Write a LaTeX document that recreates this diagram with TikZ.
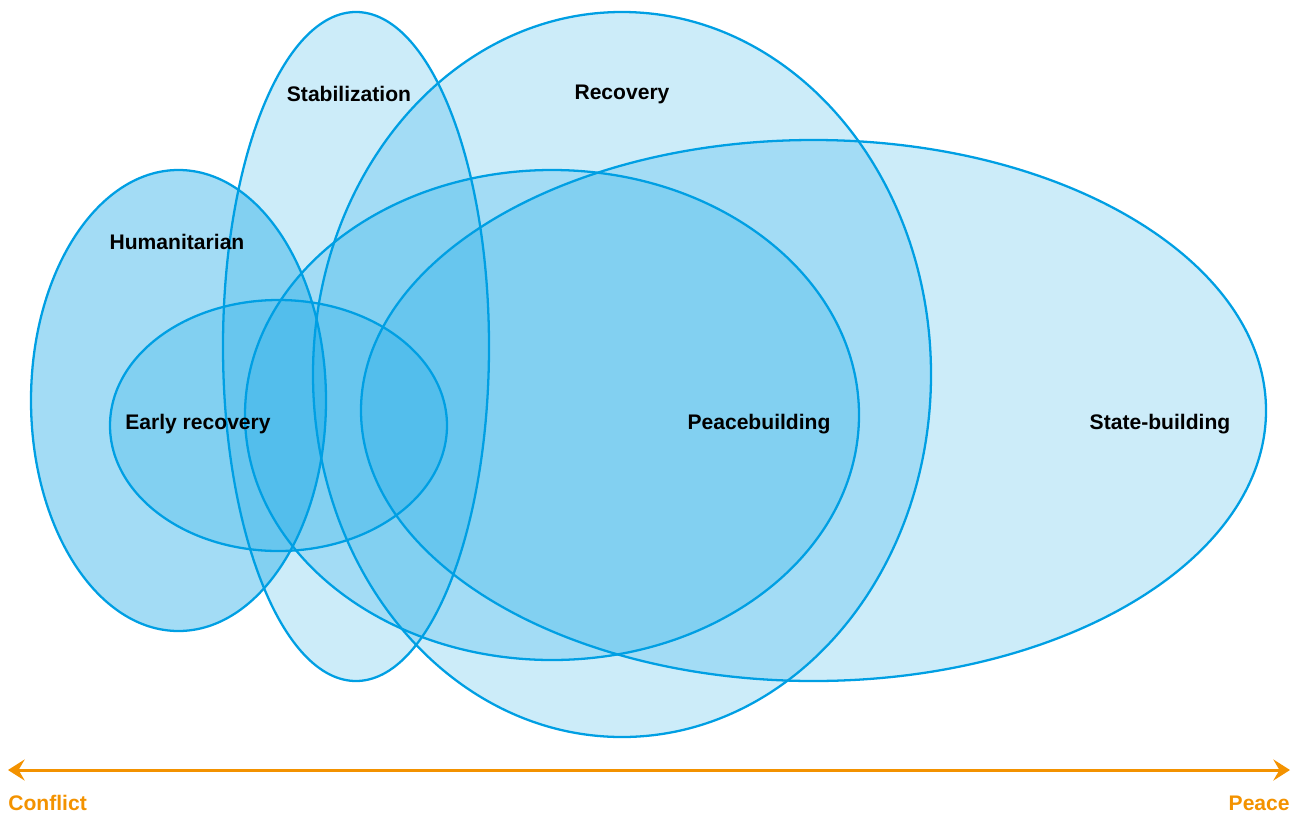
\documentclass[tikz,border=0pt]{standalone}
\usepackage{fontspec}
\setmainfont{Liberation Sans}
\usepackage{tikz}
\usetikzlibrary{
  arrows.meta,
  positioning
}
\definecolor{vnBlue}{HTML}{009FE3}
\definecolor{vnOrange}{HTML}{F39200}
\tikzset{
  areafill/.style={fill=vnBlue, fill opacity=0.2},
  areaedge/.style={draw=vnBlue, line width=1.3pt},
  arealabel/.style={font=\fontsize{12}{14}\selectfont\bfseries, text=black, inner sep=0pt},
  axislabel/.style={font=\fontsize{12}{14}\selectfont\bfseries, text=vnOrange, inner sep=0pt},
  axisline/.style={{Stealth[length=9.5pt, width=12pt, inset=3.5pt]}-{Stealth[length=9.5pt, width=12pt, inset=3.5pt]}, line width=1.7pt, vnOrange}
}
\begin{document}
\begin{tikzpicture}[x=0.02cm, y=-0.02cm]
  \useasboundingbox (0,0) rectangle (1301,815);
  % fills first, edges on top
  \fill[areafill, fill opacity=0.36] (178.5,400.5) ellipse [x radius=147.5, y radius=230.5];
  \fill[areafill] (278.5,425.5) ellipse [x radius=168.5, y radius=125.5];
  \fill[areafill] (356,346.5)   ellipse [x radius=133, y radius=334.5];
  \fill[areafill] (622,374.5)   ellipse [x radius=309, y radius=362.5];
  \fill[areafill] (552,415)     ellipse [x radius=307, y radius=245];
  \fill[areafill] (813.5,410.5) ellipse [x radius=452.5, y radius=270.5];
  \draw[areaedge] (178.5,400.5) ellipse [x radius=147.5, y radius=230.5];
  \draw[areaedge] (278.5,425.5) ellipse [x radius=168.5, y radius=125.5];
  \draw[areaedge] (356,346.5)   ellipse [x radius=133, y radius=334.5];
  \draw[areaedge] (622,374.5)   ellipse [x radius=309, y radius=362.5];
  \draw[areaedge] (552,415)     ellipse [x radius=307, y radius=245];
  \draw[areaedge] (813.5,410.5) ellipse [x radius=452.5, y radius=270.5];
  % labels
  \node[arealabel] (stab)  at (349,94)   {Stabilization};
  \node[arealabel] (recov) at (622,94)   {Recovery};
  \node[arealabel] (hum)   at (177,242)  {Humanitarian};
  \node[arealabel] (early) at (198,424)  {Early recovery};
  \node[arealabel] (peace) at (759,424)  {Peacebuilding};
  \node[arealabel] (state) at (1160,424) {State-building};
  % conflict -- peace axis
  \coordinate (axisL) at (8,770);
  \coordinate (axisR) at (1290,770);
  \draw[axisline] (axisL) -- (axisR);
  \node[axislabel, anchor=west] (conflict) at (8,803)    {Conflict};
  \node[axislabel, anchor=east] (peaceend) at (1290,803) {Peace};
\end{tikzpicture}
\end{document}
